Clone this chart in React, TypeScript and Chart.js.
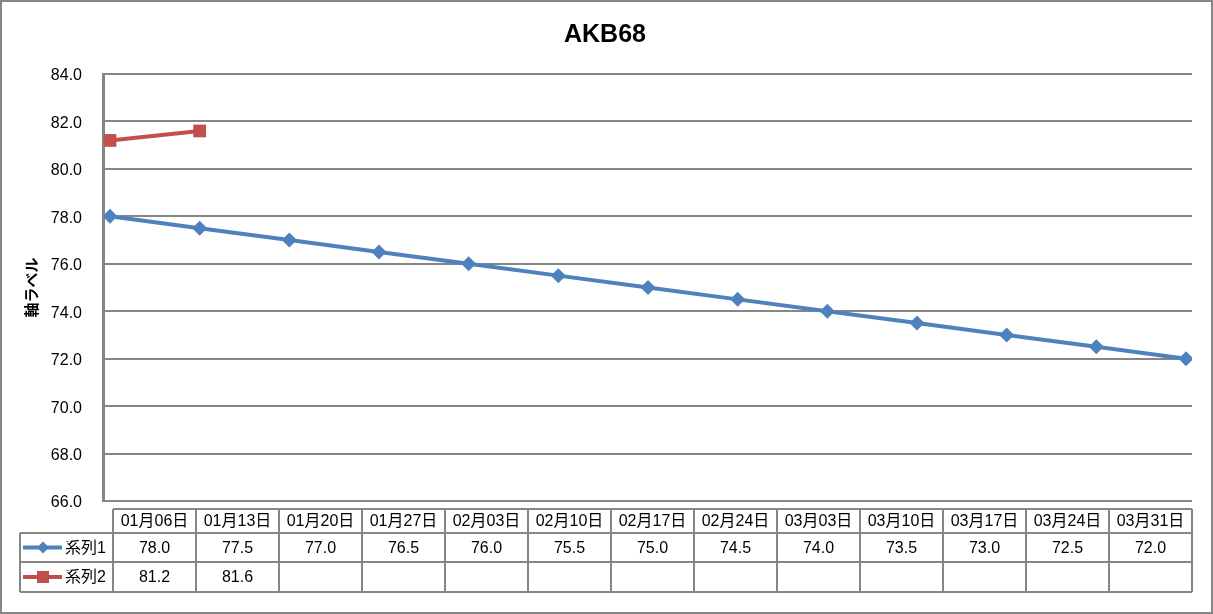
import React, { useEffect, useRef } from "react";
import { Chart, registerables } from "chart.js";

Chart.register(...registerables);

const chartTitle = "AKB68";
const yAxisTitle = "軸ラベル";
const categories = [
  "01月06日", "01月13日", "01月20日", "01月27日", "02月03日", "02月10日", "02月17日",
  "02月24日", "03月03日", "03月10日", "03月17日", "03月24日", "03月31日",
];
const series1Name = "系列1";
const series2Name = "系列2";
const series1 = [78.0, 77.5, 77.0, 76.5, 76.0, 75.5, 75.0, 74.5, 74.0, 73.5, 73.0, 72.5, 72.0];
const series2: (number | null)[] = [81.2, 81.6, null, null, null, null, null, null, null, null, null, null, null];
const yMin = 66;
const yMax = 84;
const yStep = 2;

const BLUE = "#4F81BD";
const RED = "#C0504D";
const GRAY = "#868686";
const FONT = '"Liberation Sans", "Noto Sans CJK JP", sans-serif';

const tablePlugin = {
  id: "excelExtras",
  afterDraw(chart: any) {
    const ctx: CanvasRenderingContext2D = chart.ctx;
    const area = chart.chartArea;
    ctx.save();
    // outer border
    ctx.strokeStyle = GRAY;
    ctx.lineWidth = 2;
    ctx.strokeRect(1, 1, 1211, 612);

    // title
    ctx.fillStyle = "#000";
    ctx.font = `bold 25px ${FONT}`;
    ctx.textAlign = "center";
    ctx.textBaseline = "middle";
    ctx.fillText(chartTitle, 605, 35);

    // y axis title
    ctx.save();
    ctx.translate(33, (area.top + area.bottom) / 2);
    ctx.rotate(-Math.PI / 2);
    ctx.font = `bold 15px ${FONT}`;
    ctx.fillText(yAxisTitle, 0, 0);
    ctx.restore();

    // data table
    const left = 113;
    const right = area.right;
    const labelLeft = 20;
    const n = categories.length;
    const colW = (right - left) / n;
    const hTop = 509, r1Top = 533, r2Top = 562, bottom = 592;

    ctx.strokeStyle = GRAY;
    ctx.lineWidth = 2;
    ctx.beginPath();
    ctx.moveTo(left, hTop); ctx.lineTo(right, hTop);
    ctx.moveTo(labelLeft, r1Top); ctx.lineTo(right, r1Top);
    ctx.moveTo(labelLeft, r2Top); ctx.lineTo(right, r2Top);
    ctx.moveTo(labelLeft, bottom); ctx.lineTo(right, bottom);
    ctx.moveTo(labelLeft, r1Top); ctx.lineTo(labelLeft, bottom);
    for (let i = 0; i <= n; i++) {
      const x = Math.round(left + i * colW);
      ctx.moveTo(x, hTop); ctx.lineTo(x, bottom);
    }
    ctx.stroke();

    ctx.fillStyle = "#000";
    ctx.font = `16px ${FONT}`;
    ctx.textAlign = "center";
    ctx.textBaseline = "middle";
    for (let i = 0; i < n; i++) {
      const cx = left + (i + 0.5) * colW;
      ctx.fillText(categories[i], cx, (hTop + r1Top) / 2 + 1);
      if (series1[i] != null) ctx.fillText((series1[i] as number).toFixed(1), cx, (r1Top + r2Top) / 2 + 1);
      if (series2[i] != null) ctx.fillText((series2[i] as number).toFixed(1), cx, (r2Top + bottom) / 2 + 1);
    }

    const drawKey = (y: number, color: string, shape: "diamond" | "square", name: string) => {
      ctx.strokeStyle = color;
      ctx.lineWidth = 4;
      ctx.beginPath();
      ctx.moveTo(23, y); ctx.lineTo(62, y);
      ctx.stroke();
      ctx.fillStyle = color;
      ctx.beginPath();
      if (shape === "diamond") {
        ctx.moveTo(43 - 6, y); ctx.lineTo(43, y - 6); ctx.lineTo(43 + 6, y); ctx.lineTo(43, y + 6);
        ctx.closePath();
      } else {
        ctx.rect(37, y - 6, 12, 12);
      }
      ctx.fill();
      ctx.fillStyle = "#000";
      ctx.textAlign = "left";
      ctx.fillText(name, 65, y + 1);
    };
    drawKey((r1Top + r2Top) / 2, BLUE, "diamond", series1Name);
    drawKey((r2Top + bottom) / 2, RED, "square", series2Name);
    ctx.restore();
  },
};

export default function App() {
  const ref = useRef<HTMLCanvasElement | null>(null);
  useEffect(() => {
    if (!ref.current) return;
    const chart = new Chart(ref.current, {
      type: "line",
      data: {
        datasets: [
          {
            label: series1Name,
            data: series1.map((v, i) => ({ x: i, y: v })),
            borderColor: BLUE,
            backgroundColor: BLUE,
            borderWidth: 4,
            pointStyle: "rectRot",
            pointRadius: 7.5,
            pointBorderWidth: 0,
            tension: 0,
          },
          {
            label: series2Name,
            data: series2.map((v, i) => ({ x: i, y: v })),
            borderColor: RED,
            backgroundColor: RED,
            borderWidth: 4,
            pointStyle: "rect",
            pointRadius: 9,
            pointBorderWidth: 0,
            tension: 0,
            spanGaps: false,
          },
        ],
      },
      options: {
        responsive: false,
        animation: false,
        layout: { padding: { left: 0, top: 74, right: 21, bottom: 113 } },
        plugins: { legend: { display: false }, tooltip: { enabled: false }, title: { display: false } },
        scales: {
          x: { type: "linear", min: -0.078, max: 12.067, display: false },
          y: {
            min: yMin,
            max: yMax,
            ticks: {
              stepSize: yStep,
              callback: (v: any) => Number(v).toFixed(1),
              color: "#000",
              font: { family: FONT, size: 16 },
              padding: 21,
              labelOffset: 2,
            },
            grid: { color: GRAY, lineWidth: 2, drawTicks: false },
            border: { color: GRAY, width: 3 },
            afterFit: (scale: any) => { scale.width = 103; },
          },
        },
      },
      plugins: [tablePlugin],
    } as any);
    return () => chart.destroy();
  }, []);
  return (
    <div style={{ position: "fixed", left: 0, top: 0, width: 1213, height: 614, background: "#fff" }}>
      <canvas ref={ref} width={1213} height={614} style={{ display: "block", width: 1213, height: 614 }} />
    </div>
  );
}
